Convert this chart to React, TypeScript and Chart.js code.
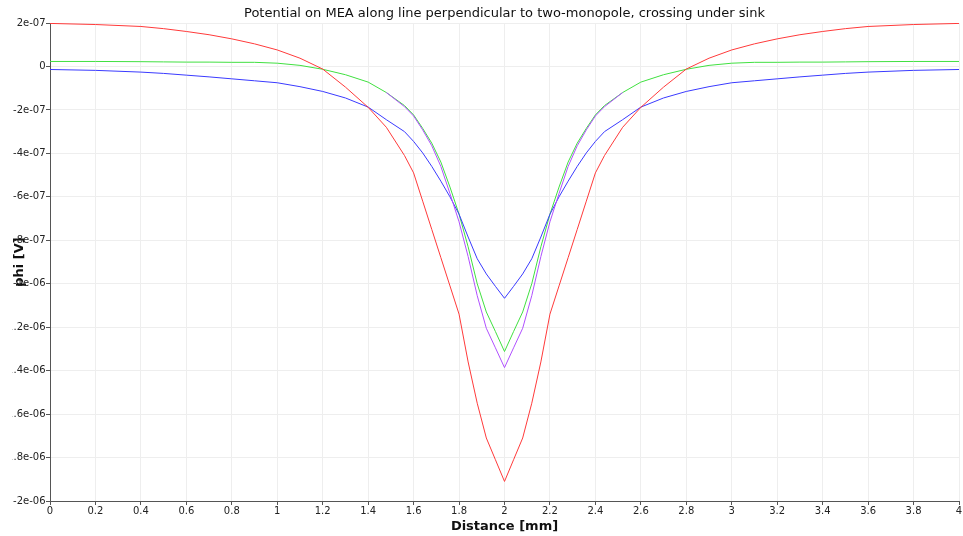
import React, { useEffect, useRef } from 'react';
import { Chart, registerables } from 'chart.js';

Chart.register(...registerables);

const chartTitle = 'Potential on MEA along line perpendicular to two-monopole, crossing under sink';
const xTitle = 'Distance [mm]';
const yTitle = 'phi [V]';

// distance along the line [mm]
const distance = [
  0, 0.2, 0.4, 0.5, 0.6, 0.7, 0.8, 0.9, 1.0, 1.1,
  1.2, 1.3, 1.4, 1.48, 1.56, 1.6, 1.64, 1.68, 1.72, 1.76,
  1.8, 1.84, 1.88, 1.92, 1.96, 2.0,
  2.04, 2.08, 2.12, 2.16, 2.2, 2.24, 2.28, 2.32, 2.36, 2.4,
  2.44, 2.52, 2.6, 2.7, 2.8, 2.9, 3.0, 3.1, 3.2, 3.3,
  3.4, 3.5, 3.6, 3.8, 4.0,
];

// potentials in units of 1e-07 V
const redPhi = [
  1.98, 1.93, 1.84, 1.74, 1.61, 1.46, 1.27, 1.04, 0.76, 0.38,
  -0.12, -0.95, -1.88, -2.8, -4.1, -4.9, -6.2, -7.5, -8.8, -10.1,
  -11.4, -13.6, -15.5, -17.1, -18.1, -19.1,
  -18.1, -17.1, -15.5, -13.6, -11.4, -10.1, -8.8, -7.5, -6.2, -4.9,
  -4.1, -2.8, -1.88, -0.95, -0.12, 0.38, 0.76, 1.04, 1.27, 1.46,
  1.61, 1.74, 1.84, 1.93, 1.98,
];

const greenPhi = [
  0.23, 0.23, 0.22, 0.21, 0.2, 0.2, 0.19, 0.19, 0.15, 0.05,
  -0.13, -0.38, -0.72, -1.2, -1.8, -2.23, -2.85, -3.53, -4.4, -5.55,
  -6.8, -8.3, -10.0, -11.3, -12.2, -13.12,
  -12.2, -11.3, -10.0, -8.3, -6.8, -5.55, -4.4, -3.53, -2.85, -2.23,
  -1.8, -1.2, -0.72, -0.38, -0.13, 0.05, 0.15, 0.19, 0.19, 0.2,
  0.2, 0.21, 0.22, 0.23, 0.23,
];

const bluePhi = [
  -0.14, -0.18, -0.26, -0.32, -0.4, -0.48, -0.57, -0.66, -0.75, -0.93,
  -1.15, -1.45, -1.87, -2.45, -3.0, -3.45, -3.98, -4.6, -5.28, -6.0,
  -6.8, -7.85, -8.85, -9.55, -10.12, -10.67,
  -10.12, -9.55, -8.85, -7.85, -6.8, -6.0, -5.28, -4.6, -3.98, -3.45,
  -3.0, -2.45, -1.87, -1.45, -1.15, -0.93, -0.75, -0.66, -0.57, -0.48,
  -0.4, -0.32, -0.26, -0.18, -0.14,
];

const purplePhi = [
  0.23, 0.23, 0.22, 0.21, 0.2, 0.2, 0.19, 0.19, 0.15, 0.05,
  -0.13, -0.38, -0.72, -1.2, -1.85, -2.28, -2.92, -3.65, -4.6, -5.85,
  -7.15, -8.75, -10.55, -12.05, -12.95, -13.86,
  -12.95, -12.05, -10.55, -8.75, -7.15, -5.85, -4.6, -3.65, -2.92, -2.28,
  -1.85, -1.2, -0.72, -0.38, -0.13, 0.05, 0.15, 0.19, 0.19, 0.2,
  0.2, 0.21, 0.22, 0.23, 0.23,
];

const xTickLabels = ['0', '0.2', '0.4', '0.6', '0.8', '1', '1.2', '1.4', '1.6', '1.8', '2', '2.2', '2.4', '2.6', '2.8', '3', '3.2', '3.4', '3.6', '3.8', '4'];
const yTickValues = [-20, -18, -16, -14, -12, -10, -8, -6, -4, -2, 0, 2];
const yTickLabels = ['-2e-06', '-1.8e-06', '-1.6e-06', '-1.4e-06', '-1.2e-06', '-1e-06', '-8e-07', '-6e-07', '-4e-07', '-2e-07', '0', '2e-07'];

const PURPLE = '#b050ff';

// y tick labels drawn right-aligned and clipped on their left side, as in the original
const clippedYLabels = {
  id: 'clippedYLabels',
  beforeDatasetsDraw(chart: any) {
    const s = chart.scales.y;
    const ctx = chart.ctx;
    ctx.save();
    ctx.beginPath();
    ctx.rect(12.5, 0, s.right - 12.5, chart.height);
    ctx.clip();
    ctx.font = '10px "DejaVu Sans"';
    ctx.fillStyle = '#222';
    ctx.textAlign = 'right';
    ctx.textBaseline = 'middle';
    yTickValues.forEach((v, i) => {
      ctx.fillText(yTickLabels[i], s.right - 4.5, s.getPixelForValue(v));
    });
    ctx.restore();
  },
};

export default function App() {
  const ref = useRef<HTMLCanvasElement>(null);
  useEffect(() => {
    const canvas = ref.current;
    if (!canvas) return;
    Chart.defaults.font.family = 'DejaVu Sans';
    const mk = (label: string, vals: number[], color: string, extra: any = {}) => ({
      label,
      data: distance.map((x, i) => ({ x, y: vals[i] })),
      borderColor: color,
      backgroundColor: color,
      borderWidth: 1,
      pointRadius: 0,
      fill: false,
      tension: 0,
      ...extra,
    });
    const chart = new Chart(canvas, {
      type: 'line',
      data: {
        datasets: [
          mk('purple', purplePhi, PURPLE, {
            segment: {
              // where purple lies exactly under green, green hides it
              borderColor: (c: any) =>
                purplePhi[c.p0DataIndex] === greenPhi[c.p0DataIndex] &&
                purplePhi[c.p1DataIndex] === greenPhi[c.p1DataIndex]
                  ? 'rgba(0,0,0,0)'
                  : PURPLE,
            },
          }),
          mk('red', redPhi, '#ff3a3a'),
          mk('blue', bluePhi, '#3a3aff'),
          mk('green', greenPhi, '#40e040'),
        ],
      },
      plugins: [clippedYLabels],
      options: {
        responsive: false,
        animation: false,
        layout: { padding: { left: 0, right: 4, top: 0, bottom: 0 } },
        plugins: {
          legend: { display: false },
          tooltip: { enabled: false },
          title: {
            display: true,
            text: chartTitle,
            fullSize: false,
            color: '#111',
            font: { size: 13, weight: 'normal' },
            padding: { top: 6.2, bottom: 1.2 },
          },
        },
        scales: {
          x: {
            type: 'linear',
            min: 0,
            max: 4,
            afterFit: (s: any) => { s.height = 35; },
            ticks: {
              stepSize: 0.2,
              autoSkip: false,
              maxRotation: 0,
              padding: 0,
              color: '#222',
              font: { size: 10 },
              callback: (v: any) => xTickLabels[Math.round(Number(v) / 0.2)] ?? '',
            },
            grid: { color: '#eeeeee', tickColor: '#555', tickLength: 4 },
            border: { color: '#555' },
            title: {
              display: true,
              text: xTitle,
              color: '#111',
              font: { size: 13, weight: 'bold' },
              padding: { top: 0, bottom: 1.4 },
            },
          },
          y: {
            type: 'linear',
            min: -20,
            max: 2,
            afterFit: (s: any) => { s.width = 50; },
            ticks: {
              stepSize: 2,
              display: false,
            },
            grid: { color: '#eeeeee', tickColor: '#555', tickLength: 4 },
            border: { color: '#555' },
            title: {
              display: true,
              text: yTitle,
              color: '#111',
              font: { size: 13, weight: 'bold' },
              padding: { top: 12, bottom: 0 },
            },
          },
        },
      },
    } as any);
    return () => chart.destroy();
  }, []);
  return (
    <div style={{ position: 'fixed', left: 0, top: 0, width: 963, height: 536 }}>
      <canvas ref={ref} width={963} height={536} style={{ display: 'block' }} />
    </div>
  );
}
